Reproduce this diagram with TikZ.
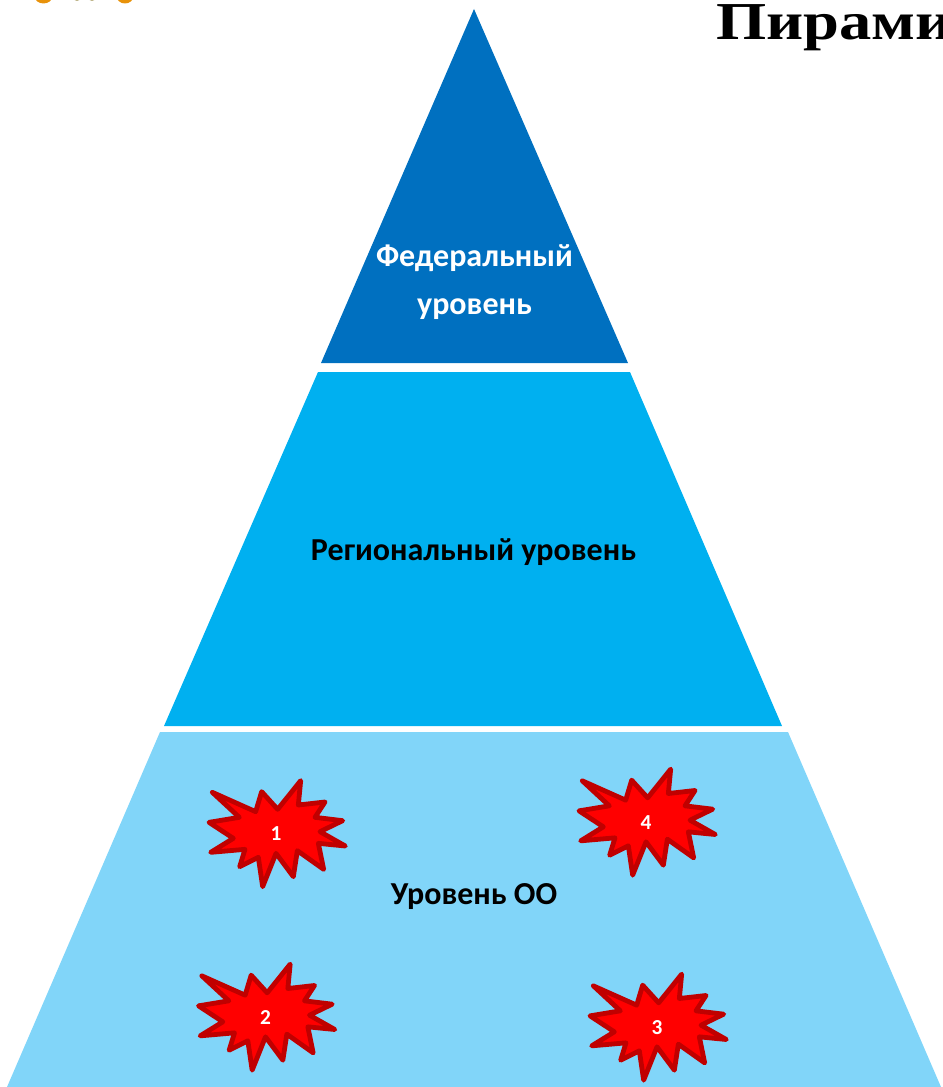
\documentclass[tikz,border=0pt]{standalone}
\usepackage{fontspec}
\setmainfont{Carlito}
\newfontfamily\titlefont{Liberation Serif}
\definecolor{fedblue}{HTML}{0070C0}
\definecolor{regblue}{HTML}{00B0F0}
\definecolor{oolight}{HTML}{81D5F9}
\definecolor{burstred}{HTML}{FF0000}
\definecolor{burstedge}{HTML}{C00000}
\definecolor{coinorange}{HTML}{E8920A}
\definecolor{coinbeige}{HTML}{B8AE80}
\tikzset{
  level/.style={draw=none},
  leveltext/.style={font=\fontsize{24}{28}\selectfont\bfseries,align=center,inner sep=0pt},
  bursttext/.style={font=\fontsize{16}{18}\selectfont\bfseries,text=white,inner sep=0pt},
  burstshape/.style={fill=burstred,draw=burstedge,line width=3.6pt,line join=round},
  coin/.style={fill=#1,draw=none}
}
\newcommand{\burstat}[3]{%
  \begin{scope}[shift={(#1,#2)},x=0.25pt,y=-0.25pt]
    \draw[burstshape] (-191,-125) -- (-61,-67) -- (-43,-127) -- (5,-74) -- (74,-160) -- (67,-87)
      -- (147,-96) -- (117,-50) -- (200,-40) -- (132,-7) -- (208,36) -- (127,28) -- (143,106)
      -- (64,50) -- (52,128) -- (0,58) -- (-40,158) -- (-53,70) -- (-109,98) -- (-93,46)
      -- (-196,55) -- (-128,13) -- (-201,-35) -- (-110,-50) -- cycle;
  \end{scope}
  \node[bursttext] (burst#3) at (#1,#2) {#3};
}
\begin{document}
\begin{tikzpicture}[x=0.75pt,y=-0.75pt]
  \useasboundingbox (0,0) rectangle (942,1087);
  \clip (0,0) rectangle (942,1087);
  \fill[coin=coinorange] (43.5,-4) ellipse (9 and 7.5);
  \fill[coin=coinbeige] (77,-4) ellipse (5 and 5);
  \fill[coin=coinbeige] (92,-4) ellipse (5 and 5);
  \fill[coin=coinorange] (125,-4) ellipse (8.5 and 7.5);
  \node[anchor=base west,inner sep=0pt,xscale=1.21,font=\titlefont\fontsize{40}{44}\selectfont\bfseries] (title) at (716,39.5) {Пирами};
  \fill[fedblue,level] (474,9) -- (628,363) -- (321,363) -- cycle;
  \fill[regblue,level] (318,372) -- (630,372) -- (782,726) -- (164,726) -- cycle;
  \fill[oolight,level] (160,732) -- (788,732) -- (941,1087) -- (7,1087) -- cycle;
  \node[leveltext,text=white,anchor=base] (fedline) at (474.5,266.5) {Федеральный};
  \node[leveltext,text=white,anchor=base] (fedline2) at (474.5,314.5) {уровень};
  \node[leveltext] (reg) at (473.5,552.5) {Региональный уровень};
  \node[leveltext] (oo) at (474,897) {Уровень ОО};
  \burstat{276}{834}{1}
  \burstat{265.5}{1017.5}{2}
  \burstat{657}{1027.5}{3}
  \burstat{646}{822.5}{4}
\end{tikzpicture}
\end{document}
